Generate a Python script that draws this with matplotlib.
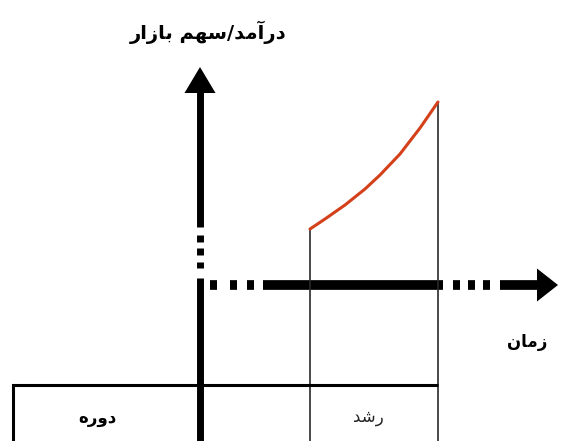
import matplotlib
matplotlib.use("Agg")
import matplotlib.pyplot as plt
from matplotlib.patches import Polygon

# presentation forms: isolated, final, initial, medial (right-joining letters have two)
FORMS = {
    "\u0627": (0xFE8D, 0xFE8E),
    "\u0622": (0xFE81, 0xFE82),
    "\u0628": (0xFE8F, 0xFE90, 0xFE91, 0xFE92),
    "\u062F": (0xFEA9, 0xFEAA),
    "\u0631": (0xFEAD, 0xFEAE),
    "\u0632": (0xFEAF, 0xFEB0),
    "\u0633": (0xFEB1, 0xFEB2, 0xFEB3, 0xFEB4),
    "\u0634": (0xFEB5, 0xFEB6, 0xFEB7, 0xFEB8),
    "\u0645": (0xFEE1, 0xFEE2, 0xFEE3, 0xFEE4),
    "\u0646": (0xFEE5, 0xFEE6, 0xFEE7, 0xFEE8),
    "\u0647": (0xFEE9, 0xFEEA, 0xFEEB, 0xFEEC),
    "\u0648": (0xFEED, 0xFEEE),
}


def shape(text):
    # matplotlib has no bidi/joining support, so join letters by hand and reverse
    out = []
    for i, ch in enumerate(text):
        if ch not in FORMS:
            out.append(ch)
            continue
        prev = text[i - 1] if i > 0 else ""
        nxt = text[i + 1] if i + 1 < len(text) else ""
        joins_prev = prev in FORMS and len(FORMS[prev]) == 4
        joins_next = len(FORMS[ch]) == 4 and nxt in FORMS
        f = FORMS[ch]
        if joins_prev and joins_next:
            code = f[3]
        elif joins_prev:
            code = f[1]
        elif joins_next:
            code = f[2]
        else:
            code = f[0]
        out.append(chr(code))
    return "".join(reversed(out))


y_label = "درآمد/سهم بازار"
x_label = "زمان"
row_label = "دوره"
phase_label = "رشد"

# growth phase: start and end on the time axis
growth_start = 110
growth_end = 238
# revenue along the growth phase
curve_t = [110, 125, 145, 165, 180, 200, 220, 238]
curve_rev = [56, 66, 80, 96, 110, 131, 157, 183]

plt.rcParams["font.family"] = ["DejaVu Sans"]

fig = plt.figure(figsize=(5.67, 4.41), dpi=100)
ax = fig.add_axes([0, 0, 1, 1])
ax.set_xlim(-200, 367)
ax.set_ylim(-156, 285)
ax.axis("off")

bottom = -156
table_top = -100
table_left = -187

# vertical axis: solid, three dashes, solid
ax.plot([0, 0], [58, 194], color="black", lw=5, solid_capstyle="butt")
for y0, y1 in [(43, 50), (30, 37), (17, 23)]:
    ax.plot([0, 0], [y0, y1], color="black", lw=5, solid_capstyle="butt")
ax.plot([0, 0], [bottom, 7], color="black", lw=5, solid_capstyle="butt")
ax.add_patch(Polygon([[-15.5, 192], [15.5, 192], [0, 218]], closed=True,
                     color="black", lw=0))

# horizontal axis: dots, solid, dots, solid, arrowhead
for x0, x1 in [(10, 17), (30, 37), (47, 54)]:
    ax.plot([x0, x1], [0, 0], color="black", lw=7, solid_capstyle="butt")
ax.plot([63, 243], [0, 0], color="black", lw=7, solid_capstyle="butt")
for x0, x1 in [(253, 260), (268, 275), (283, 290)]:
    ax.plot([x0, x1], [0, 0], color="black", lw=7, solid_capstyle="butt")
ax.plot([300, 339], [0, 0], color="black", lw=7, solid_capstyle="butt")
ax.add_patch(Polygon([[337, 16.5], [337, -16.5], [358, 0]], closed=True,
                     color="black", lw=0))

# phase boundaries
ax.plot([growth_start, growth_start], [bottom, curve_rev[0]], color="#2a2a2a", lw=1.2)
ax.plot([growth_end, growth_end], [bottom, curve_rev[-1]], color="#2a2a2a", lw=1.2)

# revenue curve
ax.plot(curve_t, curve_rev, color="#d4401a", lw=2.2, solid_capstyle="round",
        solid_joinstyle="round")

# phase table
ax.plot([table_left, growth_end], [table_top, table_top], color="black", lw=2.2,
        solid_capstyle="butt")
ax.plot([table_left, table_left], [bottom, table_top], color="black", lw=2.2)

ax.text(8, 253, shape(y_label), ha="center", va="center", fontsize=14,
        fontweight="bold")
ax.text(327, -57, shape(x_label), ha="center", va="center", fontsize=12,
        fontweight="bold")
ax.text(-103, -133, shape(row_label), ha="center", va="center", fontsize=12,
        fontweight="bold")
ax.text(168, -132, shape(phase_label), ha="center", va="center", fontsize=12,
        color="#222222")

fig.savefig("out.png", dpi=100)
